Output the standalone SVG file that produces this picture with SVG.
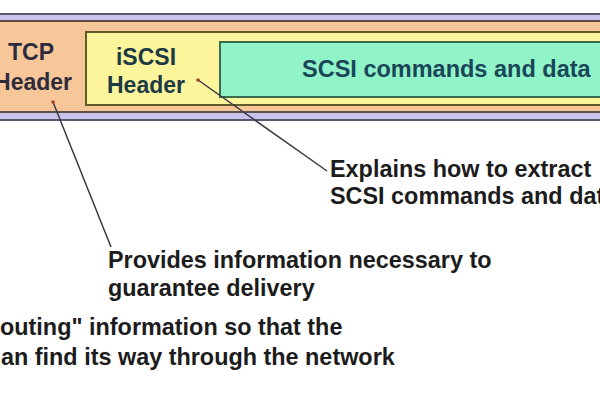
<svg xmlns="http://www.w3.org/2000/svg" width="600" height="400" viewBox="0 0 600 400">
<style>
.box{font-family:"Liberation Sans",Arial,sans-serif;font-weight:bold;font-size:23px}
.ann{font-family:"Liberation Sans",Arial,sans-serif;font-weight:bold;font-size:23.4px;fill:#1c1c1c}
.lead{stroke:#3a3a44;stroke-width:1.5;fill:none}
.dot{fill:#a8402c}
</style>
<rect x="0" y="0" width="600" height="400" fill="#ffffff"/>
<g id="band">
<rect x="-5" y="14" width="610" height="106" fill="#c9c2ec" stroke="#5a5870" stroke-width="2"/>
</g>
<g id="tcp">
<rect x="-5" y="21" width="610" height="91" fill="#f7c79a" stroke="#5e5048" stroke-width="2"/>
<text class="box" x="31" y="60" text-anchor="middle" fill="#2c2c3c">TCP</text>
<text class="box" x="33" y="90" text-anchor="middle" fill="#2c2c3c">Header</text>
</g>
<g id="iscsi">
<rect x="86" y="32" width="530" height="73" fill="#fcf59c" stroke="#5e5a2c" stroke-width="2"/>
<text class="box" x="146" y="65" text-anchor="middle" fill="#1c3a44">iSCSI</text>
<text class="box" x="146" y="93" text-anchor="middle" fill="#1c3a44">Header</text>
</g>
<g id="scsi">
<rect x="220" y="42" width="400" height="55" fill="#90f4c8" stroke="#3c6a4c" stroke-width="2"/>
<text class="box" x="302" y="77" fill="#1a4658" style="font-size:23.5px">SCSI commands and data</text>
</g>
<g id="connectors">
<line class="lead" x1="53" y1="102" x2="111" y2="247"/>
<line class="lead" x1="198" y1="80" x2="327" y2="171"/>
<circle class="dot" cx="53" cy="102" r="1.8"/>
<circle class="dot" cx="198" cy="80" r="1.8"/>
</g>
<g id="note-iscsi">
<text class="ann" x="330" y="177">Explains how to extract</text>
<text class="ann" x="330" y="204">SCSI commands and dat</text>
</g>
<g id="note-tcp">
<text class="ann" x="108" y="268">Provides information necessary to</text>
<text class="ann" x="108" y="296">guarantee delivery</text>
</g>
<g id="note-ip">
<text class="ann" x="0" y="335">outing" information so that the</text>
<text class="ann" x="1" y="365">an find its way through the network</text>
</g>
</svg>
